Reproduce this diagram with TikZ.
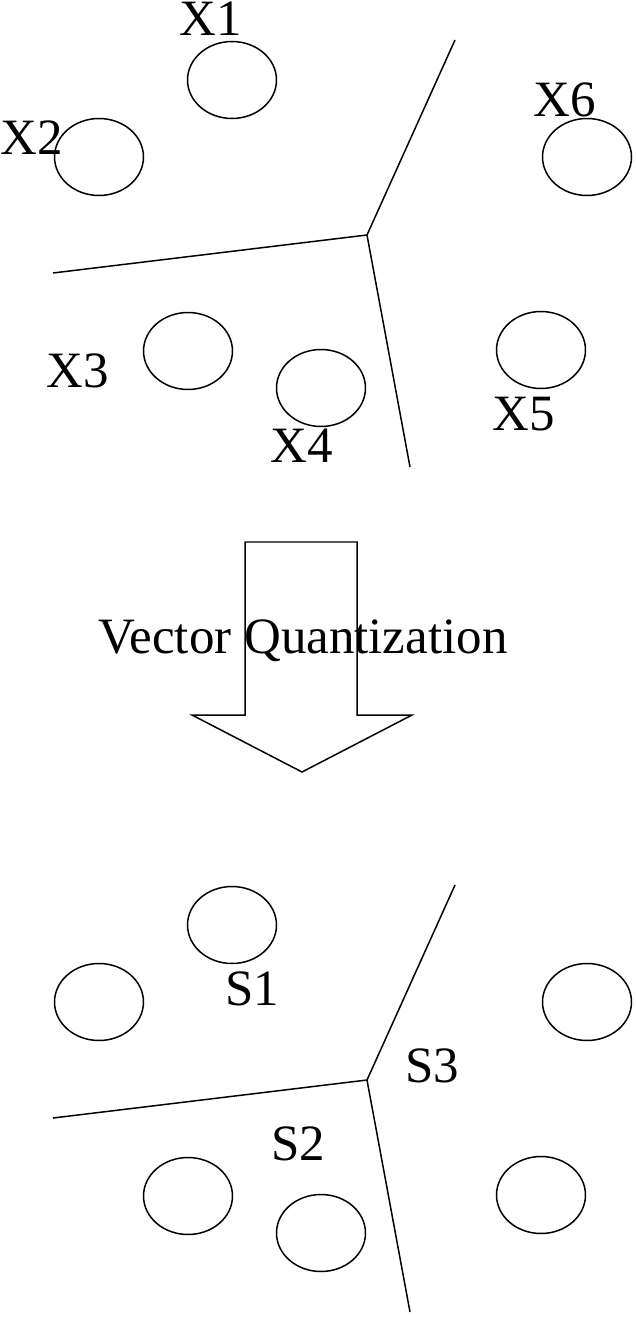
\documentclass[tikz,border=0pt]{standalone}
\usepackage{fontspec}
\setmainfont{Liberation Serif}
\usepackage{tikz}
\usetikzlibrary{shapes.geometric}

\begin{document}
\begin{tikzpicture}[x=0.02cm, y=-0.02cm, line width=0.85pt,
  cell/.style={draw, ellipse, minimum width=1.78cm, minimum height=1.54cm, inner sep=0pt},
  tag/.style={font=\fontsize{29}{34}\selectfont, inner sep=0pt, anchor=base}]
  \useasboundingbox (0,0) rectangle (635,1317);
  % before quantization
  \node[cell] (x1) at (232,80){};
  \node[cell] (x2) at (99,157){};
  \node[cell] (x3) at (188,351){};
  \node[cell] (x4) at (321,388){};
  \node[cell] (x5) at (541,350){};
  \node[cell] (x6) at (587,157){};
  \node[tag] (lx1) at (211,36){X1};
  \node[tag] (lx2) at (32,155){X2};
  \node[tag] (lx3) at (78,387){X3};
  \node[tag] (lx4) at (302,462){X4};
  \node[tag] (lx5) at (524,430){X5};
  \node[tag] (lx6) at (565,117){X6};
  \coordinate (J) at (367,235);
  \coordinate (JT) at (455,40);
  \coordinate (JL) at (53,273);
  \coordinate (JB) at (410,467);
  \draw (JT)--(J)--(JB);
  \draw (JL)--(J);
  % arrow
  \draw[line join=miter] (245,542)--(357,542)--(357,715)--(412,715)--(302,772)
    --(192,715)--(245,715)--cycle;
  \node[tag] (vq) at (303,653){Vector Quantization};
  % after quantization
  \node[cell] (s1a) at (232,925){};
  \node[cell] (s1b) at (99,1002){};
  \node[cell] (s2a) at (188,1196){};
  \node[cell] (s2b) at (321,1233){};
  \node[cell] (s3a) at (541,1195){};
  \node[cell] (s3b) at (587,1002){};
  \node[tag] (ls1) at (252,1005){S1};
  \node[tag] (ls2) at (298,1160){S2};
  \node[tag] (ls3) at (432,1082){S3};
  \coordinate (K) at (367,1080);
  \coordinate (KT) at (455,885);
  \coordinate (KL) at (53,1118);
  \coordinate (KB) at (410,1312);
  \draw (KT)--(K)--(KB);
  \draw (KL)--(K);
\end{tikzpicture}
\end{document}
